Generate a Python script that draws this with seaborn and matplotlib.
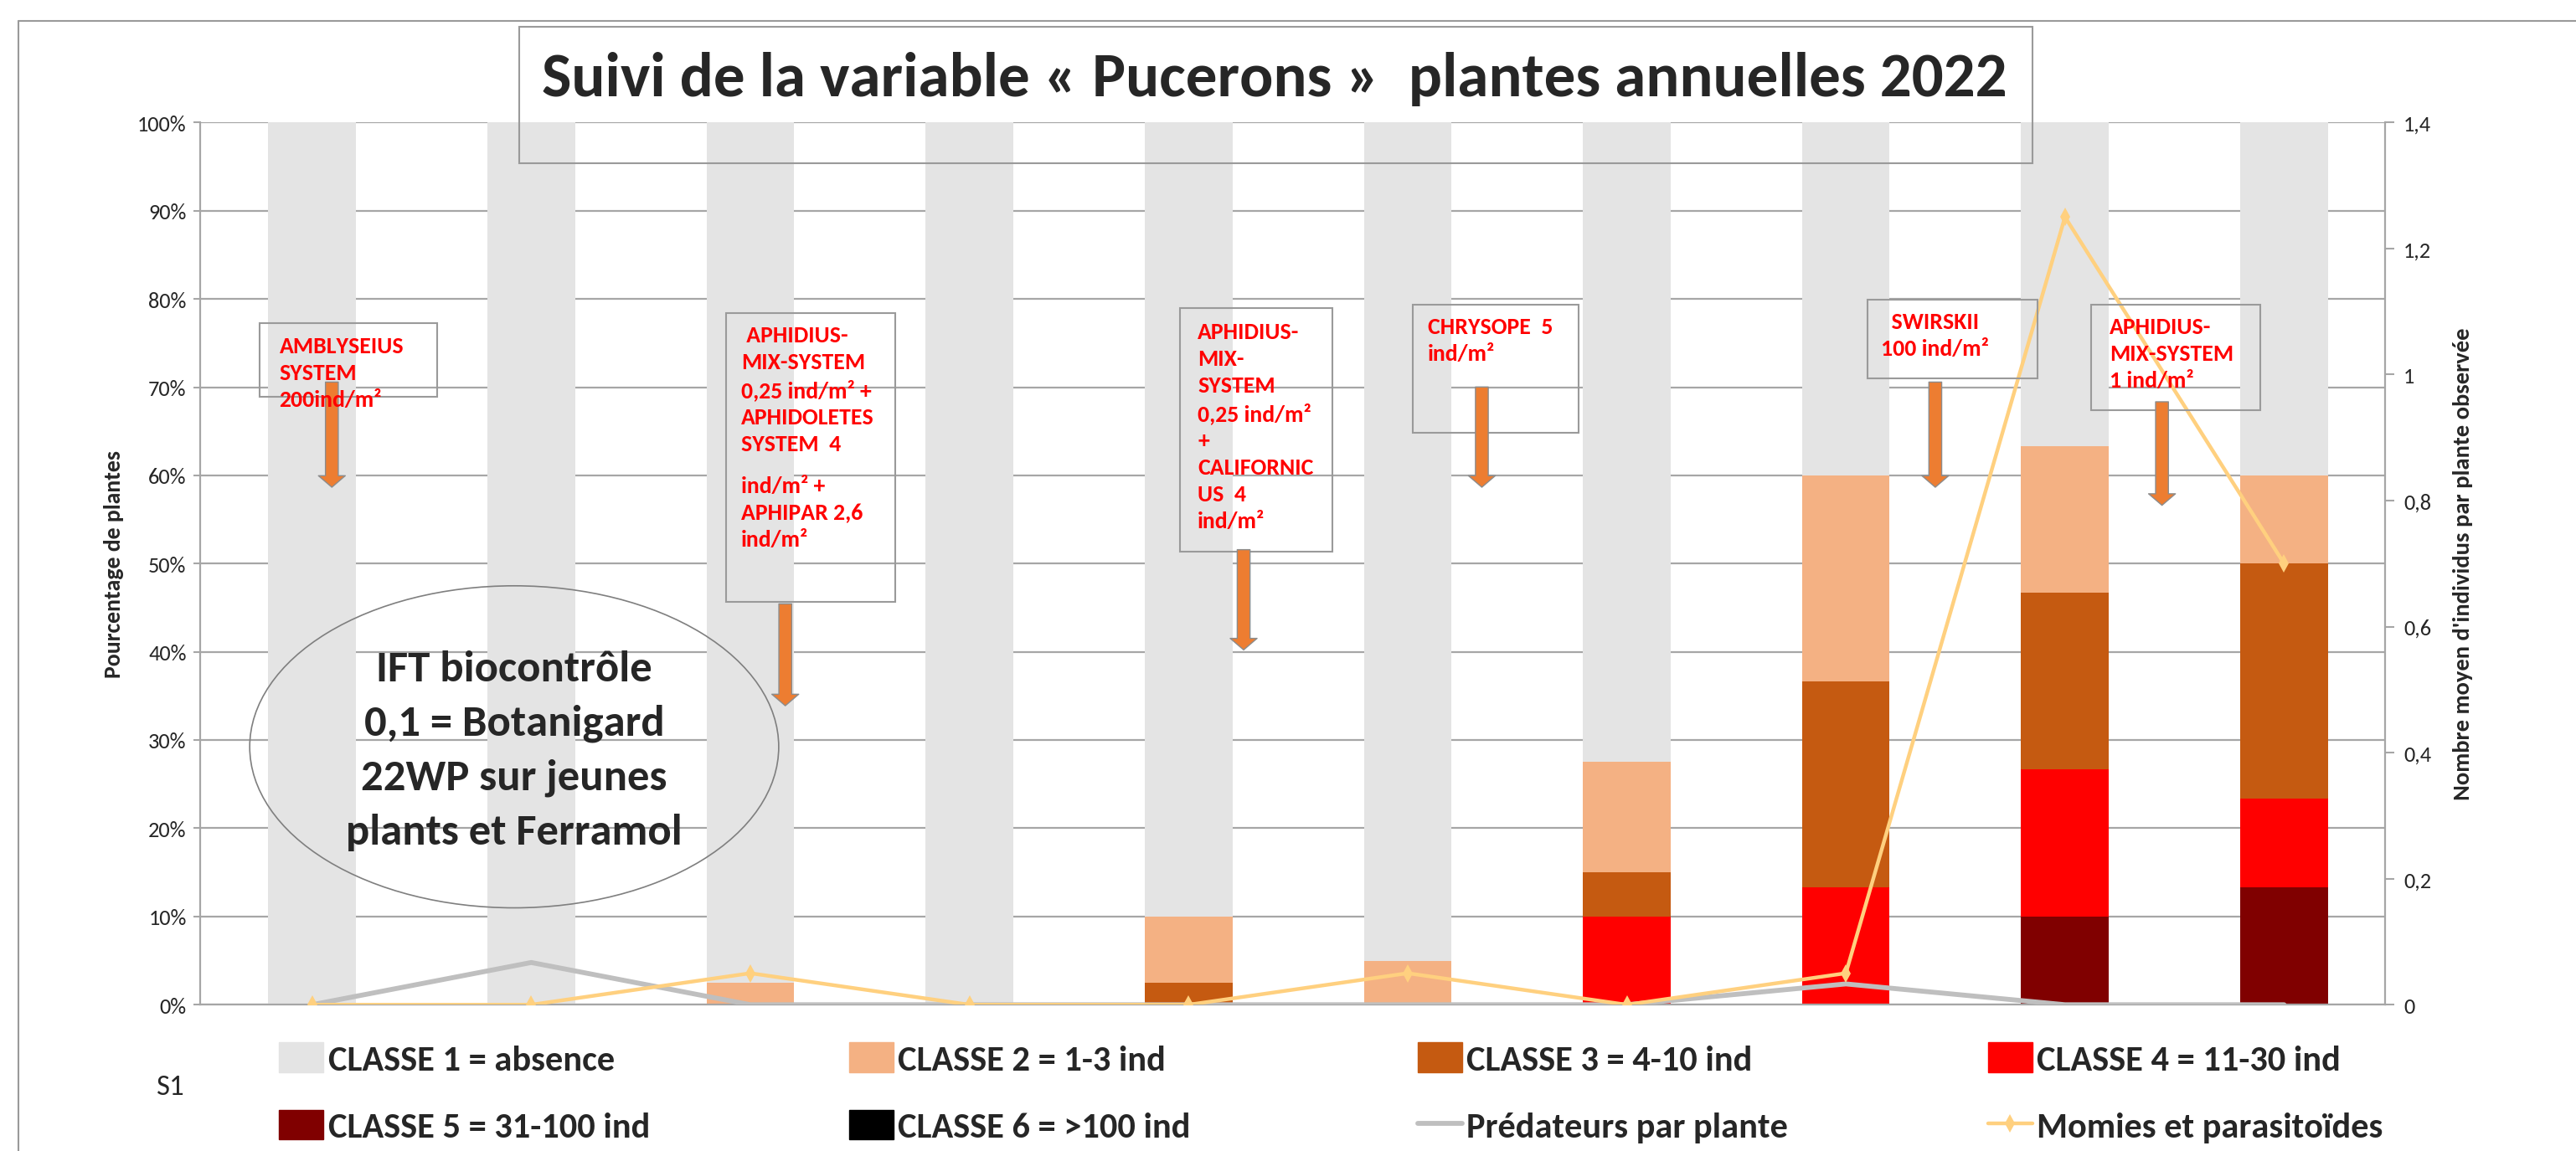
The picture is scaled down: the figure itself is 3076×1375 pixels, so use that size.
import matplotlib
matplotlib.use('Agg')
import matplotlib.pyplot as plt
import matplotlib.patches as mpatches
from matplotlib.lines import Line2D
import seaborn as sns
import numpy as np

# relevés (10 dates)
releves = ['S1', 'S2', 'S3', 'S4', 'S5', 'S6', 'S7', 'S8', 'S9', 'S10']

# pourcentage de plantes par classe
classe1 = [100, 100, 97.5, 100, 90, 95, 72.5, 40, 36.67, 40]
classe2 = [0, 0, 2.5, 0, 7.5, 5, 12.5, 23.33, 16.67, 10]
classe3 = [0, 0, 0, 0, 2.5, 0, 5, 23.33, 20, 26.67]
classe4 = [0, 0, 0, 0, 0, 0, 10, 13.33, 16.67, 10]
classe5 = [0, 0, 0, 0, 0, 0, 0, 0, 10, 13.33]
classe6 = [0, 0, 0, 0, 0, 0, 0, 0, 0, 0]

# nombre moyen d'individus par plante
predateurs = [0, 0.067, 0, 0, 0, 0, 0, 0.033, 0, 0]
momies = [0, 0, 0.05, 0, 0, 0.05, 0, 0.05, 1.25, 0.7]

noms_classes = ['CLASSE 1 = absence', 'CLASSE 2 = 1-3 ind', 'CLASSE 3 = 4-10 ind',
                'CLASSE 4 = 11-30 ind', 'CLASSE 5 = 31-100 ind', 'CLASSE 6 = >100 ind']
couleurs = ['#E4E4E4', '#F4B183', '#C55A11', '#FF0000', '#800000', '#000000']

sns.set_style('white')
plt.rcParams['font.family'] = ['Carlito', 'Lato', 'DejaVu Sans']

fig = plt.figure(figsize=(30.76, 13.759), dpi=100)
ax = fig.add_axes([0.0778, 0.127, 0.848, 0.766])

# barres empilées : on dessine les cumuls du plus haut au plus bas
couches = [classe1, classe2, classe3, classe4, classe5, classe6]
cumul = np.cumsum(couches[::-1], axis=0)[::-1]
for i in range(6):
    sns.barplot(x=releves, y=cumul[i], order=releves, color=couleurs[i], width=0.4,
                saturation=1, errorbar=None, linewidth=0, ax=ax)

ax.set_xlim(-0.51, 9.46)
ax.set_ylim(0, 100)
ax.set_yticks(range(0, 101, 10))
ax.set_yticklabels([f'{v}%' for v in range(0, 101, 10)], fontsize=19)
ax.set_xticks([])
ax.set_xlabel('')
ax.yaxis.grid(True, color='#A6A6A6', lw=1.6)
ax.set_axisbelow(True)
for s in ['top', 'right']:
    ax.spines[s].set_visible(False)
ax.spines['left'].set_color('#A6A6A6')
ax.spines['left'].set_linewidth(1.6)
ax.spines['bottom'].set_color('#A6A6A6')
ax.spines['bottom'].set_linewidth(1.6)
ax.tick_params(axis='y', left=True, length=6, width=1.5, color='#A6A6A6', pad=6)
ax.set_ylabel('Pourcentage de plantes', fontsize=20, fontweight='bold')
ax.yaxis.set_label_coords(-0.035, 0.5)

ax2 = ax.twinx()
x = np.arange(len(releves))
sns.lineplot(x=x, y=predateurs, color='#BFBFBF', lw=4.2, ax=ax2, legend=False)
sns.lineplot(x=x, y=momies, color='#FFD07F', lw=3.2, marker='d', markersize=11,
             markeredgewidth=0, ax=ax2, legend=False)
ax2.set_xlim(-0.51, 9.46)
ax2.set_ylim(0, 1.4)
ax2.set_yticks([0, 0.2, 0.4, 0.6, 0.8, 1.0, 1.2, 1.4])
ax2.set_yticklabels(['0', '0,2', '0,4', '0,6', '0,8', '1', '1,2', '1,4'], fontsize=19)
for s in ['top', 'left', 'bottom']:
    ax2.spines[s].set_visible(False)
ax2.spines['right'].set_color('#A6A6A6')
ax2.spines['right'].set_linewidth(1.6)
ax2.tick_params(axis='y', right=True, length=8, width=1.5, color='#A6A6A6', pad=8)
ax2.set_ylabel("Nombre moyen d'individus par plante observée", fontsize=20.5, fontweight='bold')
ax2.yaxis.set_label_coords(1.031, 0.5)


# positions (1568 x 701)
def fx(px):
    return px / 1568


def fy(py):
    return 1 - py / 701


def cadre(x0, y0, x1, y1, **kw):
    r = mpatches.Rectangle((fx(x0), fy(y1)), fx(x1) - fx(x0), fy(y0) - fy(y1),
                           transform=fig.transFigure, fill=False, ec='#9A9A9A', lw=1.5, **kw)
    fig.add_artist(r)


# cadre général
fig.add_artist(Line2D([fx(11), 1], [fy(13), fy(13)], transform=fig.transFigure, color='#9A9A9A', lw=1.5))
fig.add_artist(Line2D([fx(11), fx(11)], [fy(13), 0], transform=fig.transFigure, color='#9A9A9A', lw=1.5))

# titre
cadre(316, 17, 1237, 100)
fig.text(fx(776), fy(48), 'Suivi de la variable « Pucerons »  plantes annuelles 2022',
         ha='center', va='center', fontsize=54, fontweight='bold')

# lâchers d'auxiliaires
lachers = [
    ((158, 197, 266, 242), [(170, 205, 'AMBLYSEIUS\nSYSTEM\n200ind/m²')], (202, 233, 297)),
    ((442, 191, 545, 367), [(451, 198, ' APHIDIUS-\nMIX-SYSTEM\n0,25 ind/m² +\nAPHIDOLETES\nSYSTEM  4'),
                            (451, 290, 'ind/m² +\nAPHIPAR 2,6\nind/m²')], (478, 368, 430)),
    ((718, 188, 811, 336), [(729, 196, 'APHIDIUS-\nMIX-\nSYSTEM\n0,25 ind/m²\n+\nCALIFORNIC\nUS  4\nind/m²')],
     (757, 335, 396)),
    ((860, 186, 961, 264), [(869, 193, 'CHRYSOPE  5\nind/m²')], (902, 236, 297)),
    ((1137, 183, 1240, 231), [(1145, 190, '  SWIRSKII\n100 ind/m²')], (1178, 233, 297)),
    ((1273, 186, 1376, 250), [(1284, 193, 'APHIDIUS-\nMIX-SYSTEM\n1 ind/m²')], (1316, 245, 308)),
]
for boite, textes, fleche in lachers:
    cadre(*boite)
    for tx, ty, t in textes:
        fig.text(fx(tx), fy(ty), t, ha='left', va='top', color='#FF0000', fontsize=20,
                 fontweight='bold', linespacing=1.4)
    xa, ya0, ya1 = fleche
    fig.add_artist(mpatches.FancyArrowPatch(
        (fx(xa), fy(ya0)), (fx(xa), fy(ya1)), transform=fig.transFigure,
        arrowstyle='simple,head_length=0.9,head_width=2.1,tail_width=1',
        mutation_scale=11, shrinkA=0, shrinkB=0, fc='#ED7D31', ec='#8C8C8C', lw=1))

# ellipse IFT
fig.add_artist(mpatches.Ellipse((fx(313), fy(455)), fx(322), 196 / 701, transform=fig.transFigure,
                                fill=False, ec='#7F7F7F', lw=1.2))
fig.text(fx(313), fy(457), 'IFT biocontrôle\n0,1 = Botanigard\n22WP sur jeunes\nplants et Ferramol',
         ha='center', va='center', fontsize=38, fontweight='bold', linespacing=1.53)

fig.text(fx(95), fy(662), 'S1', ha='left', va='center', fontsize=25)

# légende sur 4 colonnes
poignees = [mpatches.Patch(color=c) for c in couleurs]
poignees += [Line2D([], [], color='#BFBFBF', lw=4.2),
             Line2D([], [], color='#FFD07F', lw=3.2, marker='d', markersize=11, markeredgewidth=0)]
labels = noms_classes + ['Prédateurs par plante', 'Momies et parasitoïdes']
ordre = [[0, 4], [1, 5], [2, 6], [3, 7]]
cols_x = [170, 517, 863, 1210]
for cx, idx in zip(cols_x, ordre):
    fig.legend([poignees[i] for i in idx], [labels[i] for i in idx], loc='upper left',
               bbox_to_anchor=(fx(cx), fy(635)), frameon=False,
               prop={'weight': 'bold', 'size': 30.5}, handlelength=1.25, handleheight=0.9,
               handletextpad=0.12, labelspacing=0.98, borderpad=0, borderaxespad=0)

fig.savefig('out.png', dpi=100)
